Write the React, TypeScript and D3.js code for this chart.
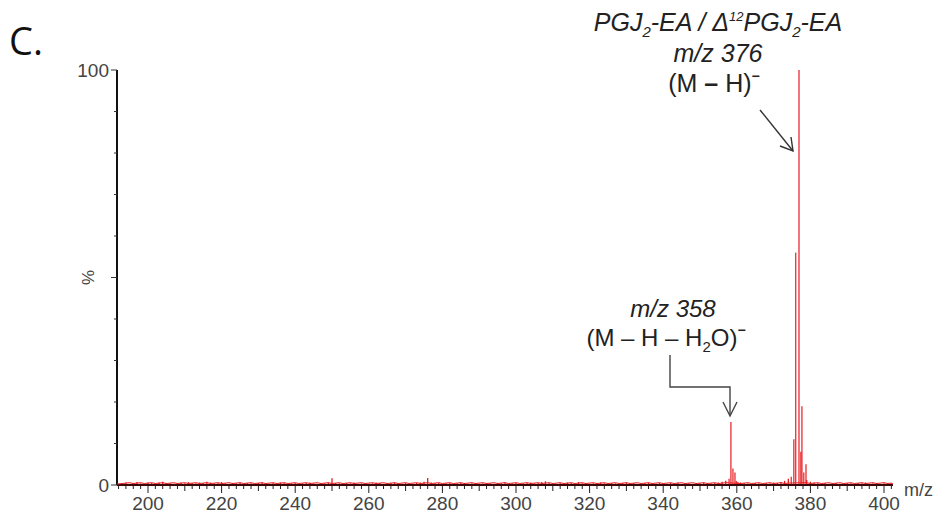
import React from 'react';
import * as d3 from 'd3';

// baseline noise, one value per integer m/z from 193
const noiseStart = 193;
const noiseValues = [
  0.4, 0.6, 0.3, 0.5, 0.7, 0.4, 0.3, 0.6, 0.5, 0.4,
  0.6, 0.8, 0.5, 0.4, 0.3, 0.5, 0.6, 0.4, 0.7, 0.5,
  0.4, 0.6, 0.5, 0.8, 0.6, 0.4, 0.5, 0.7, 0.4, 0.3,
  0.5, 0.4, 0.6, 0.3, 0.5, 0.4, 0.3, 0.5, 0.6, 0.4,
  0.3, 0.5, 0.4, 0.6, 0.5, 0.3, 0.4, 0.5, 0.3, 0.4,
  0.5, 0.6, 0.4, 0.3, 0.5, 0.4, 0.6, 1.6, 0.5, 0.4,
  0.3, 0.5, 0.4, 0.6, 0.3, 0.4, 0.5, 0.3, 0.4, 0.6,
  0.5, 0.3, 0.4, 0.5, 0.6, 0.4, 0.3, 0.5, 0.4, 0.3,
  0.5, 0.6, 0.8, 1.7, 0.6, 0.4, 0.5, 0.3, 0.4, 0.5,
  0.3, 0.4, 0.6, 0.5, 0.3, 0.4, 0.5, 0.3, 0.4, 0.5,
  0.4, 0.3, 0.5, 0.4, 0.6, 0.3, 0.4, 0.5, 0.3, 0.4,
  0.5, 0.6, 0.4, 0.5, 0.7, 0.9, 0.5, 0.4, 0.3, 0.5,
  0.4, 0.6, 0.5, 0.3, 0.7, 0.4, 0.5, 0.3, 0.4, 0.5,
  0.6, 0.4, 0.3, 0.5, 0.4, 0.3, 0.5, 0.6, 0.4, 0.5,
  0.3, 0.4, 0.5, 0.6, 0.4, 0.3, 0.5, 0.4, 0.3, 0.5,
  0.4, 0.6, 0.3, 0.5, 0.4, 0.3, 0.5, 0.4, 0.6, 0.5,
  0.4, 0.5, 0.6, 0.8, 1.0,
];
const noiseStart2 = 361;
const noiseValues2 = [
  0.6, 0.5, 0.4, 0.3, 0.5, 0.4, 0.3, 0.5, 0.4, 0.6, 0.5, 0.7,
  1.0, 1.5,
];
const noiseStart3 = 379;
const noiseValues3 = [
  1.2, 0.8, 0.6, 0.5, 0.4, 0.5, 0.3, 0.4, 0.5, 0.3, 0.4, 0.5,
  0.4, 0.3, 0.5, 0.4, 0.6, 0.3, 0.4, 0.5, 0.3, 0.4, 0.5, 0.4,
];

// main ion peaks
const peakMz = [357.9, 358.4, 358.95, 359.5, 359.9, 360.3, 374.8, 375.5, 376.0, 376.9, 377.4, 377.7, 378.2, 378.8];
const peakInt = [1.5, 15.2, 4, 3, 1.0, 0.7, 2, 11, 56, 100, 8, 19, 3, 5];

const xMajor = [200, 220, 240, 260, 280, 300, 320, 340, 360, 380, 400];
const yLabels = [0, 100];

const W = 941;
const H = 514;

export default function App() {
  const x = d3.scaleLinear().domain([200, 400]).range([148, 884]);
  const y = d3.scaleLinear().domain([0, 100]).range([485, 70]);
  const xMin = x.invert(117);
  const xMax = x.invert(893);

  const noise = [
    ...noiseValues.map((v, i) => ({ mz: noiseStart + i, v })),
    ...noiseValues2.map((v, i) => ({ mz: noiseStart2 + i, v })),
    ...noiseValues3.map((v, i) => ({ mz: noiseStart3 + i, v })),
  ];
  const peaks = peakMz.map((mz, i) => ({ mz, v: peakInt[i] }));

  const minorX = d3.range(Math.ceil(xMin / 2) * 2, xMax, 2);
  const yTicks = d3.range(0, 101, 10);

  const red = '#e8191e';
  const font = 'Liberation Sans, Arial, sans-serif';

  return (
    <svg width={W} height={H} style={{ position: 'absolute', left: 0, top: 0, background: '#fff' }}>
      <rect width={W} height={H} fill="#fff" />
      <text x={9} y={55} fontFamily="Open Sans, Calibri, sans-serif" fontSize={38} fill="#111">C.</text>

      {/* y axis */}
      <line x1={117} x2={117} y1={y(100)} y2={y(0)} stroke="#111" strokeWidth={2} />
      {yTicks.map(t => (
        <line key={t} x1={117} x2={t % 50 === 0 ? 111 : 114} y1={y(t)} y2={y(t)} stroke="#333" strokeWidth={1} />
      ))}
      {yLabels.map(t => (
        <text key={t} x={109} y={y(t) + 7} textAnchor="end" fontFamily={font} fontSize={19} fill="#444">{t}</text>
      ))}
      <text transform={`translate(88,${y(50)}) rotate(-90)`} textAnchor="middle" dy={6} fontFamily={font} fontSize={17} fill="#444">%</text>

      {/* x axis ticks */}
      {minorX.map(t => {
        const len = t % 20 === 0 ? 8 : t % 10 === 0 ? 6 : 4;
        return <line key={t} x1={x(t)} x2={x(t)} y1={y(0)} y2={y(0) + len} stroke="#222" strokeWidth={1} />;
      })}
      {xMajor.map(t => (
        <text key={t} x={x(t)} y={510} textAnchor="middle" fontFamily={font} fontSize={19} fill="#444">{t}</text>
      ))}
      <text x={904} y={496} fontFamily={font} fontSize={18} fill="#444">m/z</text>

      {/* spectrum */}
      {noise.map(d => (
        <line key={'n' + d.mz} x1={x(d.mz)} x2={x(d.mz)} y1={y(0)} y2={y(d.v)} stroke={red} strokeWidth={1.3} />
      ))}
      {peaks.map(d => (
        <line key={'p' + d.mz} x1={x(d.mz)} x2={x(d.mz)} y1={y(0)} y2={y(d.v)} stroke={red} strokeWidth={1.4} strokeOpacity={0.85} />
      ))}
      <line x1={117} x2={893} y1={y(0)} y2={y(0)} stroke="#3a0a0a" strokeWidth={2} />
      <path d={`M117,${y(0) - 1} ${d3.range(0, noise.length).map(i => `L${x(noise[i].mz)},${y(0) - 1.5 - (i % 3) * 0.4}`).join(' ')} L893,${y(0) - 1}`} fill="none" stroke={red} strokeWidth={1} />

      {/* annotation for m/z 376 */}
      <g fontFamily={font} fill="#222" textAnchor="middle">
        <text x={718} y={31} fontSize={25} fontStyle="italic">
          PGJ<tspan fontSize={15} dy={6}>2</tspan><tspan dy={-6}>-EA / Δ</tspan><tspan fontSize={13} dy={-10}>12</tspan><tspan dy={10}>PGJ</tspan><tspan fontSize={15} dy={6}>2</tspan><tspan dy={-6}>-EA</tspan>
        </text>
        <text x={718} y={62} fontSize={25} fontStyle="italic">m/z 376</text>
        <text x={714} y={92} fontSize={25}>
          (M <tspan fontWeight="bold">–</tspan> H)<tspan dy={-11} fontWeight="bold" fontSize={14}>−</tspan>
        </text>
      </g>
      <line x1={760} y1={110} x2={793} y2={151} stroke="#333" strokeWidth={1.4} />
      <path d="M780,146 L793,151 L791,137" fill="none" stroke="#333" strokeWidth={1.4} />

      {/* annotation for m/z 358 */}
      <g fontFamily={font} fill="#222" textAnchor="middle">
        <text x={673} y={317} fontSize={24} fontStyle="italic">m/z 358</text>
        <text x={666} y={346} fontSize={24}>
          (M – H – H<tspan fontSize={15} dy={6}>2</tspan><tspan dy={-6}>O)</tspan><tspan dy={-11} fontWeight="bold" fontSize={14}>−</tspan>
        </text>
      </g>
      <path d="M670,355 L670,387 L730,387 L730,415" fill="none" stroke="#444" strokeWidth={1.4} />
      <path d="M723,402 L730,416 L737,402" fill="none" stroke="#444" strokeWidth={1.4} />
    </svg>
  );
}
